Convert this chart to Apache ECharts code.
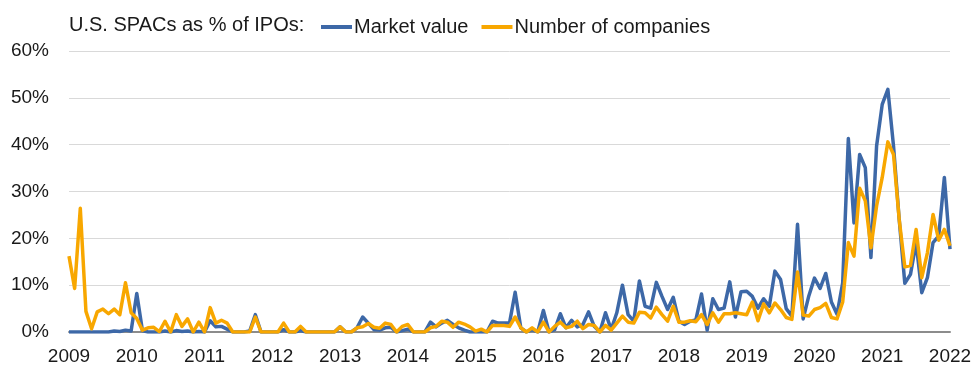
<!DOCTYPE html>
<html>
<head>
<meta charset="utf-8">
<script src="https://cdn.jsdelivr.net/npm/echarts@6/dist/echarts.min.js"></script>
<style>
html,body{margin:0;padding:0;background:#fff;}
#c{width:975px;height:379px;}
</style>
</head>
<body>
<div id="c"></div>
<script>
// Monthly, Jan 2009 .. Jan 2022
const startYear = 2009;
const nMonths = 157;
const yTicks = ['0%','10%','20%','30%','40%','50%','60%'];
const titleText = 'U.S. SPACs as % of IPOs:';
const seriesNames = ['Market value', 'Number of companies'];

const marketValue = [
 0,0,0,0,0,0,0,0,0.2,0.1,0.4,0.2,
 8.2,0.3,0,0,0,0.2,0,0.3,0.1,0.2,0,0.1,
 0,2.4,1.1,1.2,0.6,0,0,0,0.2,3.7,0,0,
 0,0,0.5,0,0,0.3,0,0,0,0,0,0,
 1.1,0,0,0.9,3.2,1.9,0.5,0.4,0.9,1.0,0,0.3,
 0.6,0,0,0,2.1,1.1,1.9,2.5,1.6,0.9,0.4,0,
 0,0,0,2.3,1.9,1.9,1.9,8.5,0.9,0,0.5,0,
 4.6,0,0.5,3.9,0.9,2.5,1.1,1.6,4.3,1.2,0,4.1,
 0.5,4.1,10.0,3.7,2.3,10.9,5.5,5.1,10.6,7.6,4.8,7.4,
 2.3,1.6,2.3,2.6,8.1,0.4,7.1,4.8,5.1,10.7,3.2,8.6,
 8.7,7.6,5.1,7.1,5.5,13.0,11.2,5.0,3.4,23.0,2.8,7.7,
 11.5,9.3,12.5,6.4,3.8,10.5,41.3,23.3,37.9,35.1,15.9,39.7,
 48.6,51.8,39.7,24.1,10.4,12.3,19.1,8.4,11.6,19.1,20.5,33.0,
 17.7
];
const numberOfCompanies = [
 16.2,9.3,26.4,4.4,0.7,4.3,4.9,3.9,4.9,3.7,10.5,4.1,
 2.9,0.4,0.9,1.0,0.1,2.3,0,3.7,1.2,2.8,0,2.1,
 0,5.2,1.9,2.5,1.9,0,0,0,0,3.2,0,0,
 0,0,1.9,0,0,1.2,0,0,0,0,0,0,
 1.1,0,0,0.9,1.1,1.8,1.0,0.8,1.9,1.6,0,1.2,
 1.6,0,0,0,0.9,1.2,2.3,2.1,1.0,2.1,1.7,1.1,
 0.2,0.6,0,1.4,1.4,1.4,1.2,3.2,0.9,0,0.9,0,
 2.1,0,1.2,2.1,0.9,1.2,2.3,0.7,1.6,1.4,0,1.4,
 0.4,1.9,3.4,2.1,1.9,4.2,4.1,3.0,5.3,3.7,2.3,5.5,
 2.1,2.1,2.4,2.2,3.7,1.6,4.1,2.1,3.9,3.9,4.1,3.9,
 3.7,6.4,2.4,6.0,4.1,6.2,4.8,3.1,2.7,12.8,3.6,3.4,
 4.8,5.2,6.1,3.1,2.8,6.4,19.1,16.2,30.7,28.0,18.0,26.9,
 33.0,40.6,37.9,24.1,13.9,14.2,21.9,11.6,16.9,25.1,19.6,21.9,
 18.4
];

const months = [];
for (let i = 0; i < nMonths; i++) {
  const y = startYear + Math.floor(i / 12);
  const m = (i % 12) + 1;
  months.push(y + '-' + (m < 10 ? '0' + m : m));
}

const FONT = '"Liberation Sans", Arial, sans-serif';
const BLUE = '#3D68A7';
const ORANGE = '#F8A700';

const chart = echarts.init(document.getElementById('c'), null, {renderer: 'canvas'});
chart.setOption({
  animation: false,
  backgroundColor: '#ffffff',
  textStyle: {fontFamily: FONT},
  title: {
    text: titleText,
    left: 64, top: 10,
    textStyle: {fontFamily: FONT, fontSize: 20, fontWeight: 'normal', color: '#1a1a1a'}
  },
  legend: {
    left: 316, top: 12,
    icon: 'rect',
    itemWidth: 31, itemHeight: 4,
    itemGap: 13,
    textStyle: {fontFamily: FONT, fontSize: 20, color: '#1a1a1a', padding: [0, 0, 0, -3]},
    data: seriesNames
  },
  grid: {left: 69, right: 25, top: 51, bottom: 47, containLabel: false},
  xAxis: {
    type: 'category',
    data: months,
    boundaryGap: false,
    axisLine: {show: true, lineStyle: {color: '#8c8c8c', width: 2}},
    axisTick: {show: false},
    splitLine: {show: false},
    axisLabel: {
      interval: function (idx) { return idx % 12 === 0; },
      formatter: function (v) { return v.slice(0, 4); },
      fontFamily: FONT, fontSize: 19, color: '#1a1a1a', margin: 15
    }
  },
  yAxis: {
    type: 'value',
    min: 0, max: 60, interval: 10,
    axisLine: {show: false},
    axisTick: {show: false},
    splitLine: {show: true, lineStyle: {color: '#d9d9d9', width: 1}},
    axisLabel: {
      formatter: function (v) { return yTicks[Math.round(v / 10)]; },
      fontFamily: FONT, fontSize: 19, color: '#1a1a1a', margin: 20
    }
  },
  series: [
    {
      name: seriesNames[0], type: 'line', data: marketValue,
      showSymbol: false, symbol: 'none',
      lineStyle: {color: BLUE, width: 3.5, join: 'round'},
      itemStyle: {color: BLUE}, z: 2
    },
    {
      name: seriesNames[1], type: 'line', data: numberOfCompanies,
      showSymbol: false, symbol: 'none',
      lineStyle: {color: ORANGE, width: 3.5, join: 'round'},
      itemStyle: {color: ORANGE}, z: 3
    }
  ]
});
</script>
</body>
</html>
